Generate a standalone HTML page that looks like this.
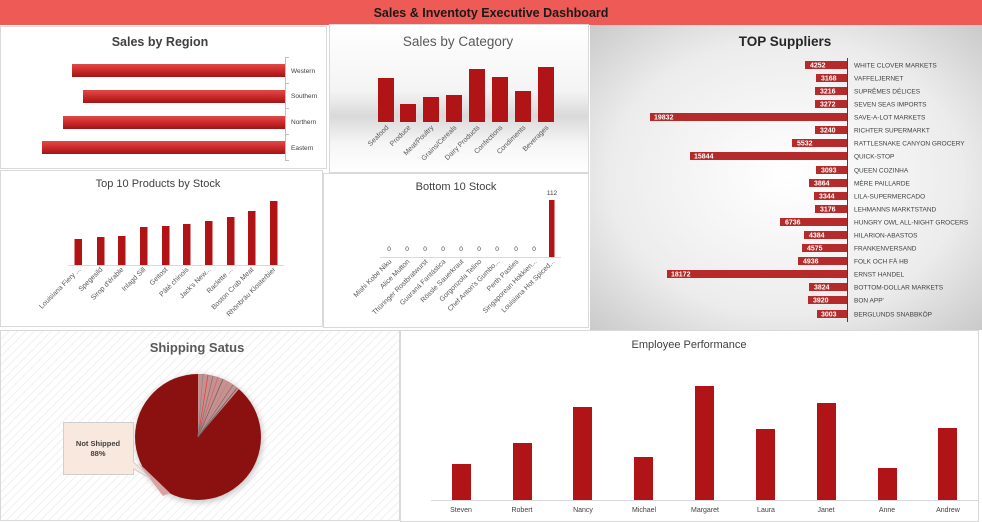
<!DOCTYPE html>
<html><head><meta charset="utf-8"><style>
html,body{margin:0;padding:0;background:#fff;}
svg{display:block;font-family:"Liberation Sans",sans-serif;}
</style></head><body>
<svg width="982" height="522" viewBox="0 0 982 522" xmlns="http://www.w3.org/2000/svg">
<defs>
<radialGradient id="sup" cx="0.5" cy="0.5" r="0.75">
<stop offset="0" stop-color="#ffffff"/><stop offset="0.6" stop-color="#ececec"/><stop offset="1" stop-color="#c4c4c4"/>
</radialGradient>
<linearGradient id="cat" x1="0" y1="0" x2="0" y2="1">
<stop offset="0" stop-color="#ffffff"/><stop offset="0.45" stop-color="#f4f4f4"/><stop offset="0.62" stop-color="#d9d9d9"/><stop offset="0.8" stop-color="#f5f5f5"/><stop offset="1" stop-color="#ffffff"/>
</linearGradient>
<linearGradient id="rb" x1="0" y1="0" x2="0" y2="1">
<stop offset="0" stop-color="#e04a4a"/><stop offset="0.5" stop-color="#cc2a2a"/><stop offset="1" stop-color="#9e1515"/>
</linearGradient>
<pattern id="hatch" width="6" height="6" patternUnits="userSpaceOnUse" patternTransform="rotate(45)">
<rect width="6" height="6" fill="#fff"/><line x1="0" y1="0" x2="0" y2="6" stroke="#f0f0f0" stroke-width="2"/>
</pattern>
<filter id="sh" x="-20%" y="-20%" width="140%" height="140%"><feGaussianBlur stdDeviation="3"/></filter>
</defs>
<rect width="982" height="522" fill="#fff"/>
<!-- header -->
<rect x="0" y="0" width="982" height="25" fill="#EE5A56"/>
<text x="491" y="17" text-anchor="middle" font-size="12.5" font-weight="bold" fill="#1a1a1a">Sales &amp; Inventoty Executive Dashboard</text>

<!-- Sales by Region -->
<rect x="0.5" y="26.5" width="326" height="142" fill="#fff" stroke="#d9d9d9"/>
<text x="160" y="46" text-anchor="middle" font-size="12.5" font-weight="bold" fill="#404040">Sales by Region</text>
<g fill="url(#rb)">
<rect x="72" y="64" width="213" height="13"/>
<rect x="83" y="90" width="202" height="13"/>
<rect x="63" y="116" width="222" height="13"/>
<rect x="42" y="141" width="243" height="13"/>
</g>
<g stroke="#bfbfbf"><line x1="285.5" y1="57" x2="285.5" y2="160"/>
<line x1="285" y1="57.5" x2="289" y2="57.5"/><line x1="285" y1="83.5" x2="289" y2="83.5"/><line x1="285" y1="108.5" x2="289" y2="108.5"/><line x1="285" y1="134.5" x2="289" y2="134.5"/><line x1="285" y1="160.5" x2="289" y2="160.5"/></g>
<g font-size="6.5" fill="#404040"><text x="291" y="73">Western</text><text x="291" y="98">Southern</text><text x="291" y="124">Northern</text><text x="291" y="150">Eastern</text></g>

<!-- Sales by Category -->
<rect x="329.5" y="24.5" width="259" height="148" fill="url(#cat)" stroke="#d9d9d9"/>
<text x="458" y="46" text-anchor="middle" font-size="13.5" fill="#595959">Sales by Category</text>
<g fill="#B01416">
<rect x="378" y="78" width="16" height="44"/><rect x="400" y="104" width="16" height="18"/><rect x="423" y="97" width="16" height="25"/><rect x="446" y="95" width="16" height="27"/>
<rect x="469" y="69" width="16" height="53"/><rect x="492" y="77" width="16" height="45"/><rect x="515" y="91" width="16" height="31"/><rect x="538" y="67" width="16" height="55"/>
</g>
<g font-size="7" fill="#595959" text-anchor="end">
<text transform="translate(389,128) rotate(-45)">Seafood</text>
<text transform="translate(411,128) rotate(-45)">Produce</text>
<text transform="translate(434,128) rotate(-45)">Meat/Poultry</text>
<text transform="translate(457,128) rotate(-45)">Grains/Cereals</text>
<text transform="translate(480,128) rotate(-45)">Dairy Products</text>
<text transform="translate(503,128) rotate(-45)">Confections</text>
<text transform="translate(526,128) rotate(-45)">Condiments</text>
<text transform="translate(549,128) rotate(-45)">Beverages</text>
</g>

<!-- TOP Suppliers -->
<rect x="590" y="25" width="392" height="305" fill="url(#sup)"/>
<text x="785" y="46" text-anchor="middle" font-size="13.5" font-weight="bold" fill="#262626">TOP Suppliers</text>
<line x1="847.5" y1="58" x2="847.5" y2="322" stroke="#404040"/>
<g id="supbars" font-size="7" font-weight="bold">
</g>
<g font-size="6.5" fill="#404040">
<!-- rows generated below -->
</g>
<g>
<rect x="805" y="61" width="42" height="8" fill="#B52A2A"/><text x="810" y="67.5" font-size="7" font-weight="bold" fill="#fff">4252</text><text x="854" y="67.5" font-size="6.5" fill="#404040">WHITE CLOVER MARKETS</text>
<rect x="816" y="74" width="31" height="8" fill="#B52A2A"/><text x="821" y="80.5" font-size="7" font-weight="bold" fill="#fff">3168</text><text x="854" y="80.5" font-size="6.5" fill="#404040">VAFFELJERNET</text>
<rect x="815" y="87" width="32" height="8" fill="#B52A2A"/><text x="820" y="93.5" font-size="7" font-weight="bold" fill="#fff">3216</text><text x="854" y="93.5" font-size="6.5" fill="#404040">SUPRÊMES DÉLICES</text>
<rect x="815" y="100" width="32" height="8" fill="#B52A2A"/><text x="820" y="106.5" font-size="7" font-weight="bold" fill="#fff">3272</text><text x="854" y="106.5" font-size="6.5" fill="#404040">SEVEN SEAS IMPORTS</text>
<rect x="650" y="113" width="197" height="8" fill="#B52A2A"/><text x="654" y="119.5" font-size="7" font-weight="bold" fill="#fff">19832</text><text x="854" y="119.5" font-size="6.5" fill="#404040">SAVE-A-LOT MARKETS</text>
<rect x="815" y="126" width="32" height="8" fill="#B52A2A"/><text x="820" y="132.5" font-size="7" font-weight="bold" fill="#fff">3240</text><text x="854" y="132.5" font-size="6.5" fill="#404040">RICHTER SUPERMARKT</text>
<rect x="792" y="139" width="55" height="8" fill="#B52A2A"/><text x="797" y="145.5" font-size="7" font-weight="bold" fill="#fff">5532</text><text x="854" y="145.5" font-size="6.5" fill="#404040">RATTLESNAKE CANYON GROCERY</text>
<rect x="690" y="152" width="157" height="8" fill="#B52A2A"/><text x="694" y="158.5" font-size="7" font-weight="bold" fill="#fff">15844</text><text x="854" y="158.5" font-size="6.5" fill="#404040">QUICK-STOP</text>
<rect x="816" y="166" width="31" height="8" fill="#B52A2A"/><text x="821" y="172.5" font-size="7" font-weight="bold" fill="#fff">3093</text><text x="854" y="172.5" font-size="6.5" fill="#404040">QUEEN COZINHA</text>
<rect x="809" y="179" width="38" height="8" fill="#B52A2A"/><text x="814" y="185.5" font-size="7" font-weight="bold" fill="#fff">3864</text><text x="854" y="185.5" font-size="6.5" fill="#404040">MÈRE PAILLARDE</text>
<rect x="814" y="192" width="33" height="8" fill="#B52A2A"/><text x="819" y="198.5" font-size="7" font-weight="bold" fill="#fff">3344</text><text x="854" y="198.5" font-size="6.5" fill="#404040">LILA-SUPERMERCADO</text>
<rect x="815" y="205" width="32" height="8" fill="#B52A2A"/><text x="820" y="211.5" font-size="7" font-weight="bold" fill="#fff">3176</text><text x="854" y="211.5" font-size="6.5" fill="#404040">LEHMANNS MARKTSTAND</text>
<rect x="780" y="218" width="67" height="8" fill="#B52A2A"/><text x="785" y="224.5" font-size="7" font-weight="bold" fill="#fff">6736</text><text x="854" y="224.5" font-size="6.5" fill="#404040">HUNGRY OWL ALL-NIGHT GROCERS</text>
<rect x="804" y="231" width="43" height="8" fill="#B52A2A"/><text x="809" y="237.5" font-size="7" font-weight="bold" fill="#fff">4384</text><text x="854" y="237.5" font-size="6.5" fill="#404040">HILARION-ABASTOS</text>
<rect x="802" y="244" width="45" height="8" fill="#B52A2A"/><text x="807" y="250.5" font-size="7" font-weight="bold" fill="#fff">4575</text><text x="854" y="250.5" font-size="6.5" fill="#404040">FRANKENVERSAND</text>
<rect x="798" y="257" width="49" height="8" fill="#B52A2A"/><text x="803" y="263.5" font-size="7" font-weight="bold" fill="#fff">4936</text><text x="854" y="263.5" font-size="6.5" fill="#404040">FOLK OCH FÄ HB</text>
<rect x="667" y="270" width="180" height="8" fill="#B52A2A"/><text x="671" y="276.5" font-size="7" font-weight="bold" fill="#fff">18172</text><text x="854" y="276.5" font-size="6.5" fill="#404040">ERNST HANDEL</text>
<rect x="809" y="283" width="38" height="8" fill="#B52A2A"/><text x="814" y="289.5" font-size="7" font-weight="bold" fill="#fff">3824</text><text x="854" y="289.5" font-size="6.5" fill="#404040">BOTTOM-DOLLAR MARKETS</text>
<rect x="808" y="296" width="39" height="8" fill="#B52A2A"/><text x="813" y="302.5" font-size="7" font-weight="bold" fill="#fff">3920</text><text x="854" y="302.5" font-size="6.5" fill="#404040">BON APP'</text>
<rect x="817" y="310" width="30" height="8" fill="#B52A2A"/><text x="821" y="316.5" font-size="7" font-weight="bold" fill="#fff">3003</text><text x="854" y="316.5" font-size="6.5" fill="#404040">BERGLUNDS SNABBKÖP</text>
</g>

<!-- Top 10 Products -->
<rect x="0.5" y="170.5" width="322" height="156" fill="#fff" stroke="#d9d9d9"/>
<text x="158" y="187" text-anchor="middle" font-size="11" fill="#404040">Top 10 Products by Stock</text>
<line x1="68" y1="265.5" x2="284" y2="265.5" stroke="#d9d9d9"/>
<g fill="#B01416">
<rect x="74.5" y="239" width="7.5" height="26"/><rect x="97" y="237" width="7.5" height="28"/><rect x="118" y="236" width="7.5" height="29"/><rect x="140" y="227" width="7.5" height="38"/><rect x="162" y="226" width="7.5" height="39"/>
<rect x="183" y="224" width="7.5" height="41"/><rect x="205" y="221" width="7.5" height="44"/><rect x="227" y="217" width="7.5" height="48"/><rect x="248" y="211" width="7.5" height="54"/><rect x="270" y="201" width="7.5" height="64"/>
</g>
<g font-size="7" fill="#595959" text-anchor="end">
<text transform="translate(81,270) rotate(-45)">Louisiana Fiery ...</text>
<text transform="translate(103,270) rotate(-45)">Spegesild</text>
<text transform="translate(124,270) rotate(-45)">Sirop d'érable</text>
<text transform="translate(146,270) rotate(-45)">Inlagd Sill</text>
<text transform="translate(168,270) rotate(-45)">Geitost</text>
<text transform="translate(189,270) rotate(-45)">Pâté chinois</text>
<text transform="translate(211,270) rotate(-45)">Jack's New...</text>
<text transform="translate(233,270) rotate(-45)">Raclette ...</text>
<text transform="translate(254,270) rotate(-45)">Boston Crab Meat</text>
<text transform="translate(276,270) rotate(-45)">Rhönbräu Klosterbier</text>
</g>

<!-- Bottom 10 -->
<rect x="323.5" y="173.5" width="265" height="154" fill="#fff" stroke="#d9d9d9"/>
<text x="456" y="190" text-anchor="middle" font-size="11" fill="#404040">Bottom 10 Stock</text>
<line x1="380" y1="257.5" x2="561" y2="257.5" stroke="#d9d9d9"/>
<rect x="549" y="200" width="5.5" height="57" fill="#B01416"/>
<g font-size="6.5" fill="#404040" text-anchor="middle">
<text x="389" y="251">0</text><text x="407" y="251">0</text><text x="425" y="251">0</text><text x="443" y="251">0</text><text x="461" y="251">0</text><text x="479" y="251">0</text><text x="497" y="251">0</text><text x="516" y="251">0</text><text x="534" y="251">0</text><text x="552" y="195">112</text>
</g>
<g font-size="7" fill="#595959" text-anchor="end">
<text transform="translate(392,262) rotate(-45)">Mishi Kobe Niku</text>
<text transform="translate(410,262) rotate(-45)">Alice Mutton</text>
<text transform="translate(428,262) rotate(-45)">Thüringer Rostbratwurst</text>
<text transform="translate(446,262) rotate(-45)">Guaraná Fantástica</text>
<text transform="translate(464,262) rotate(-45)">Rössle Sauerkraut</text>
<text transform="translate(482,262) rotate(-45)">Gorgonzola Telino</text>
<text transform="translate(500,262) rotate(-45)">Chef Anton's Gumbo...</text>
<text transform="translate(519,262) rotate(-45)">Perth Pasties</text>
<text transform="translate(537,262) rotate(-45)">Singaporean Hokkien...</text>
<text transform="translate(555,262) rotate(-45)">Louisiana Hot Spiced...</text>
</g>

<!-- Shipping -->
<rect x="0.5" y="330.5" width="399" height="190" fill="url(#hatch)" stroke="#d9d9d9"/>
<text x="197" y="352" text-anchor="middle" font-size="13" font-weight="bold" fill="#595959">Shipping Satus</text>
<circle cx="199" cy="439" r="64" fill="#999" opacity="0.5" filter="url(#sh)"/>
<circle cx="198" cy="437" r="63" fill="#8B1111"/>
<path d="M198,437 L198,374 A63,63 0 0 1 239,389 Z" fill="#c99090"/>
<g stroke-width="0.8">
<line x1="198" y1="437" x2="203" y2="374" stroke="#888"/><line x1="198" y1="437" x2="208" y2="375" stroke="#d44"/>
<line x1="198" y1="437" x2="213" y2="376" stroke="#777"/><line x1="198" y1="437" x2="218" y2="377" stroke="#c66"/>
<line x1="198" y1="437" x2="223" y2="379" stroke="#666"/><line x1="198" y1="437" x2="228" y2="382" stroke="#b88"/>
<line x1="198" y1="437" x2="233" y2="385" stroke="#777"/><line x1="198" y1="437" x2="237" y2="388" stroke="#666"/>
</g>
<path d="M198,437 L144,470 A63,63 0 0 0 172,494 Z" fill="#8B1111"/>
<path d="M138,463 L163,496 L170,493 L144,468 Z" fill="#d9a3a3"/>
<path d="M63.5,422.5 H133.5 V462 L150,478 L133.5,469 V474.5 H63.5 Z" fill="#F8E8DE" stroke="#cfcfcf"/>
<text x="98" y="446" text-anchor="middle" font-size="7.5" font-weight="bold" fill="#404040">Not Shipped</text>
<text x="98" y="456" text-anchor="middle" font-size="7.5" font-weight="bold" fill="#404040">88%</text>

<!-- Employee Performance -->
<rect x="400.5" y="330.5" width="578" height="191" fill="#fff" stroke="#d9d9d9"/>
<text x="689" y="348" text-anchor="middle" font-size="11" fill="#404040">Employee Performance</text>
<line x1="431" y1="500.5" x2="978" y2="500.5" stroke="#d9d9d9"/>
<g fill="#B01416">
<rect x="452" y="464" width="19" height="36"/><rect x="513" y="443" width="19" height="57"/><rect x="573" y="407" width="19" height="93"/>
<rect x="634" y="457" width="19" height="43"/><rect x="695" y="386" width="19" height="114"/><rect x="756" y="429" width="19" height="71"/>
<rect x="817" y="403" width="19" height="97"/><rect x="878" y="468" width="19" height="32"/><rect x="938" y="428" width="19" height="72"/>
</g>
<g font-size="7" fill="#404040" text-anchor="middle">
<text x="461" y="512">Steven</text><text x="522" y="512">Robert</text><text x="583" y="512">Nancy</text><text x="644" y="512">Michael</text><text x="705" y="512">Margaret</text><text x="766" y="512">Laura</text><text x="826" y="512">Janet</text><text x="887" y="512">Anne</text><text x="948" y="512">Andrew</text>
</g>
</svg>
</body></html>
